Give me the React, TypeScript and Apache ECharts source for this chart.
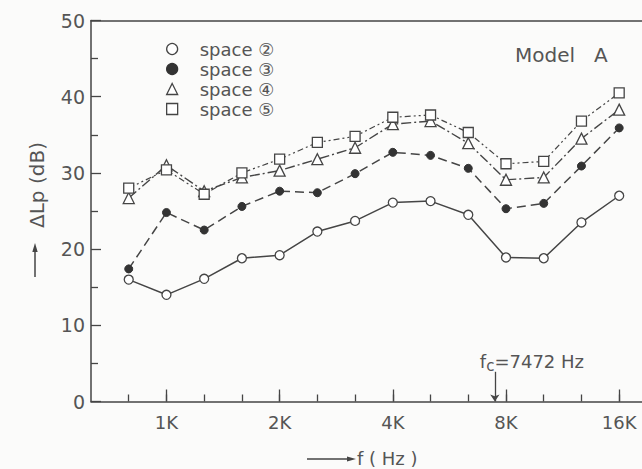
import React, { useEffect, useRef } from 'react';
import * as echarts from 'echarts';

// 1/3-octave band centre frequencies (Hz)
const freqs = [800, 1000, 1250, 1600, 2000, 2500, 3150, 4000, 5000, 6300, 8000, 10000, 12500, 16000];
const seriesNames = ['space ②', 'space ③', 'space ④', 'space ⑤'];
// ΔLp (dB)
const space2 = [16.0, 14.0, 16.1, 18.8, 19.2, 22.3, 23.7, 26.1, 26.3, 24.5, 18.9, 18.8, 23.5, 27.0];
const space3 = [17.4, 24.8, 22.5, 25.6, 27.6, 27.4, 29.9, 32.7, 32.3, 30.6, 25.3, 26.0, 30.9, 35.9];
const space4 = [26.7, 31.0, 27.6, 29.4, 30.3, 31.8, 33.3, 36.4, 36.8, 33.9, 29.1, 29.4, 34.5, 38.3];
const space5 = [28.0, 30.4, 27.2, 30.0, 31.8, 34.0, 34.8, 37.3, 37.6, 35.3, 31.2, 31.5, 36.8, 40.5];
const tickFreqs = [1000, 2000, 4000, 8000, 16000];
const tickLabels = ['1K', '2K', '4K', '8K', '16K'];
const axisMinHz = 630;
const axisMaxHz = 18400;
const fcHz = 7472;
const fcLabel = '7472 Hz';
const modelLabel = 'Model   A';
const yTitle = 'ΔLp (dB)';
const xTitle = 'f ( Hz )';

// position on a 1/3-octave scale (band number relative to 1 kHz)
const exactBand = (f: number) => 3 * Math.log2(f / 1000);
const bandOf = (f: number) => Math.round(exactBand(f));

export default function App() {
  const ref = useRef<HTMLDivElement>(null);
  useEffect(() => {
    if (!ref.current) return;
    const chart = echarts.init(ref.current, null, { renderer: 'svg' });
    const ink = '#454545';
    const textColor = '#555';
    const font = 'DejaVu Sans';
    const xMin = bandOf(axisMinHz);
    const xMax = exactBand(axisMaxHz);
    const majorVals = tickFreqs.map(bandOf);
    const commonX = {
      type: 'value',
      min: xMin,
      max: xMax,
      gridIndex: 0,
      splitLine: { show: false },
    };
    const mk = (vals: number[]) => freqs.map((f, i) => [bandOf(f), vals[i]]);
    const openStyle = { color: '#fff', borderColor: ink, borderWidth: 1.3 };
    const option: any = {
      animation: false,
      backgroundColor: '#fbfbfa',
      textStyle: { fontFamily: font },
      grid: { left: 91, right: 0, top: 20.5, bottom: 67.5, outerBoundsMode: 'none' },
      legend: {
        orient: 'vertical',
        left: 161,
        top: 35,
        itemWidth: 11,
        itemHeight: 11,
        itemGap: 2,
        selectedMode: false,
        itemStyle: { borderWidth: 1.3 },
        textStyle: { fontSize: 18, color: textColor, fontFamily: font, padding: [0, 0, 0, 17] },
        data: [
          { name: seriesNames[0], icon: 'circle' },
          { name: seriesNames[1], icon: 'circle' },
          { name: seriesNames[2], icon: 'triangle' },
          { name: seriesNames[3], icon: 'rect' },
        ],
      },
      xAxis: [
        {
          ...commonX,
          position: 'bottom',
          axisLine: { show: true, onZero: false, lineStyle: { color: ink, width: 1.5 } },
          axisTick: { show: true, inside: true, length: 7, customValues: freqs.map(bandOf), lineStyle: { color: ink, width: 1.3 } },
          axisLabel: { show: false },
        },
        {
          ...commonX,
          position: 'bottom',
          axisLine: { show: false, onZero: false },
          axisTick: { show: true, inside: true, length: 12, customValues: majorVals, lineStyle: { color: ink, width: 1.3 } },
          axisLabel: {
            show: true,
            customValues: majorVals,
            formatter: (v: number) => tickLabels[majorVals.indexOf(Math.round(v))] ?? '',
            fontSize: 18,
            color: textColor,
            margin: 12,
            fontFamily: font,
          },
        },
        {
          ...commonX,
          position: 'top',
          axisLine: { show: true, onZero: false, lineStyle: { color: ink, width: 1.5 } },
          axisTick: { show: false },
          axisLabel: { show: false },
        },
      ],
      yAxis: {
        type: 'value',
        min: 0,
        max: 50,
        interval: 10,
        axisLine: { show: true, onZero: false, lineStyle: { color: ink, width: 1.5 } },
        axisTick: { show: true, inside: true, length: 10, lineStyle: { color: ink, width: 1.3 } },
        minorTick: { show: true, splitNumber: 2, length: 7, lineStyle: { color: ink, width: 1.3 } },
        axisLabel: { fontSize: 19, color: textColor, margin: 6, fontFamily: font },
        splitLine: { show: false },
      },
      series: [
        {
          name: seriesNames[0],
          type: 'line',
          data: mk(space2),
          symbol: 'circle',
          symbolSize: 9,
          itemStyle: openStyle,
          lineStyle: { color: ink, width: 1.5, type: 'solid' },
          z: 3,
          markLine: {
            silent: true,
            symbol: ['none', 'arrow'],
            symbolSize: 7,
            label: { show: false },
            lineStyle: { color: ink, width: 1.3, type: 'solid' },
            data: [[{ coord: [exactBand(fcHz), 3.9] }, { coord: [exactBand(fcHz), 0] }]],
          },
        },
        {
          name: seriesNames[1],
          type: 'line',
          data: mk(space3),
          symbol: 'circle',
          symbolSize: 8,
          itemStyle: { color: '#333', borderColor: '#333', borderWidth: 1 },
          lineStyle: { color: ink, width: 1.5, type: [9, 5] },
          z: 4,
        },
        {
          name: seriesNames[2],
          type: 'line',
          data: mk(space4),
          symbol: 'triangle',
          symbolSize: 11,
          itemStyle: openStyle,
          lineStyle: { color: ink, width: 1.4, type: [10, 3, 2, 3] },
          z: 5,
        },
        {
          name: seriesNames[3],
          type: 'line',
          data: mk(space5),
          symbol: 'rect',
          symbolSize: 10,
          itemStyle: openStyle,
          lineStyle: { color: ink, width: 1.2, type: [6, 3, 2, 3, 2, 3] },
          z: 6,
        },
      ],
    };
    chart.setOption(option);
    const pFc = chart.convertToPixel({ xAxisIndex: 0, yAxisIndex: 0 }, [exactBand(fcHz), 0]) as number[];
    chart.setOption({
      graphic: [
        {
          type: 'text',
          x: 37,
          y: 185,
          rotation: Math.PI / 2,
          style: { text: yTitle, fontSize: 20, fontFamily: font, fill: textColor, align: 'center', verticalAlign: 'middle' },
        },
        { type: 'line', shape: { x1: 35, y1: 277, x2: 35, y2: 250 }, style: { stroke: ink, lineWidth: 1.5 } },
        { type: 'polygon', shape: { points: [[35, 243], [32.3, 252], [37.7, 252]] }, style: { fill: ink } },
        { type: 'line', shape: { x1: 307, y1: 459, x2: 349, y2: 459 }, style: { stroke: ink, lineWidth: 1.5 } },
        { type: 'polygon', shape: { points: [[356, 459], [347, 456.5], [347, 461.5]] }, style: { fill: ink } },
        {
          type: 'text',
          x: 357,
          y: 458,
          style: { text: xTitle, fontSize: 18, fontFamily: font, fill: textColor, align: 'left', verticalAlign: 'middle' },
        },
        {
          type: 'text',
          x: 515,
          y: 55,
          style: { text: modelLabel, fontSize: 20, fontFamily: font, fill: textColor, align: 'left', verticalAlign: 'middle' },
        },
        {
          type: 'text',
          x: pFc[0] - 15,
          y: 361,
          style: {
            text: '{a|f}{b|c}{a|=' + fcLabel + '}',
            align: 'left',
            verticalAlign: 'middle',
            fontFamily: font,
            fill: textColor,
            rich: {
              a: { fontSize: 18, fontFamily: font, fill: textColor, lineHeight: 24, verticalAlign: 'middle' },
              b: { fontSize: 15, fontFamily: font, fill: textColor, lineHeight: 14, verticalAlign: 'bottom' },
            },
          },
        },
      ],
    });
    return () => chart.dispose();
  }, []);
  return <div ref={ref} style={{ position: 'absolute', left: 0, top: 0, width: 642, height: 469 }} />;
}
